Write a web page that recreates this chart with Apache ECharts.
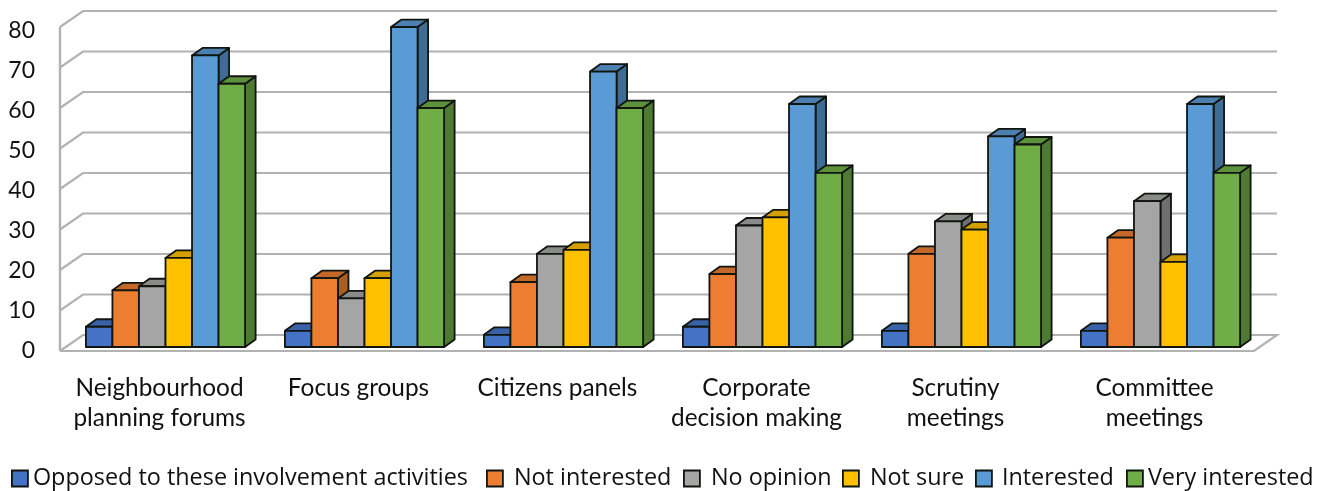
<!DOCTYPE html>
<html>
<head>
<meta charset="utf-8">
<style>html,body{margin:0;padding:0;background:#fff}#chart{width:1332px;height:491px}</style>
<script src="https://cdn.jsdelivr.net/npm/echarts@6/dist/echarts.min.js"></script>
</head>
<body>
<div id="chart"></div>
<script>
const categories = ['Neighbourhood\nplanning forums', 'Focus groups', 'Citizens panels', 'Corporate\ndecision making', 'Scrutiny\nmeetings', 'Committee\nmeetings'];
const opposed = [5, 4, 3, 5, 4, 4];
const notInterested = [14, 17, 16, 18, 23, 27];
const noOpinion = [15, 12, 23, 30, 31, 36];
const notSure = [22, 17, 24, 32, 29, 21];
const interested = [72, 79, 68, 60, 52, 60];
const veryInterested = [65, 59, 59, 43, 50, 43];
const yTicks = [0, 10, 20, 30, 40, 50, 60, 70, 80];

const seriesDefs = [
  ['Opposed to these involvement activities', opposed, '#4472C4', '#3A62A8', '#2F5288'],
  ['Not interested', notInterested, '#ED7D31', '#C4682A', '#AB5B24'],
  ['No opinion', noOpinion, '#A5A5A5', '#8A8A8A', '#6F6F6F'],
  ['Not sure', notSure, '#FFC000', '#D4A000', '#B88A00'],
  ['Interested', interested, '#5B9BD5', '#4B80B0', '#3F6C94'],
  ['Very interested', veryInterested, '#70AD47', '#5E913C', '#4E7A32']
];

// Legend entries are unevenly spaced, so each one is placed by itself: [box left, gap to text]
const legendSlots = [[11, 0], [486, 6], [683, 6], [842, 6], [975, 5], [1126, 0]];

// Oblique projection of the floor and of the bars standing on it
const WALL_DX = 23, WALL_DY = -16;
const BAR_DX = 10.5, BAR_DY = -7.5;
const BAR_SHIFT_X = 6, BAR_SHIFT_Y = -4;
const OUTLINE = '#101510';

function renderWalls(params, api) {
  const v = api.value(0);
  const rect = params.coordSys;
  const y = api.coord([0, v])[1];
  const x0 = rect.x, x1 = rect.x + rect.width;
  const pts = [[x0, y], [x0 + WALL_DX, y + WALL_DY], [x1 + WALL_DX, y + WALL_DY]];
  if (v === 0) pts.push([x1, y], [x0, y]);
  const children = [{
    type: 'polyline',
    shape: { points: pts },
    style: { fill: null, stroke: '#B2B2B2', lineWidth: 2.2 }
  }];
  if (v === 0) {
    children.push({
      type: 'line',
      shape: { x1: x0, y1: y, x2: x0, y2: api.coord([0, 80])[1] },
      style: { stroke: '#B2B2B2', lineWidth: 2.4 }
    });
  }
  return { type: 'group', children };
}

function barRenderer(index, front, top, side) {
  return function (params, api) {
    const band = api.size([1, 0])[0];
    const w = band / 7.5;
    const centre = api.coord([api.value(0), 0])[0];
    const x = centre - 3 * w + index * w + BAR_SHIFT_X;
    const base = api.coord([0, 0])[1] + BAR_SHIFT_Y;
    const y = api.coord([0, api.value(1)])[1] + BAR_SHIFT_Y;
    const edge = { stroke: OUTLINE, lineWidth: 1.8, lineJoin: 'round' };
    return {
      type: 'group',
      children: [
        {
          type: 'polygon',
          shape: { points: [[x + w, y], [x + w + BAR_DX, y + BAR_DY], [x + w + BAR_DX, base + BAR_DY], [x + w, base]] },
          style: Object.assign({ fill: side }, edge)
        },
        {
          type: 'polygon',
          shape: { points: [[x, y], [x + BAR_DX, y + BAR_DY], [x + w + BAR_DX, y + BAR_DY], [x + w, y]] },
          style: Object.assign({ fill: top }, edge)
        },
        {
          type: 'rect',
          shape: { x: x, y: y, width: w, height: base - y },
          style: Object.assign({ fill: front }, edge)
        }
      ]
    };
  };
}

const AXIS_FONT = 'Lato, sans-serif';
const LEGEND_FONT = '"Open Sans", sans-serif';

const option = {
  animation: false,
  backgroundColor: '#fff',
  grid: [
    { left: 60, top: 27, width: 1194, height: 324 },
    { left: 60, top: 31, width: 1194, height: 320 }
  ],
  xAxis: [
    {
      gridIndex: 0, type: 'category', data: categories,
      axisLine: { show: false }, axisTick: { show: false },
      axisLabel: { color: '#111', fontFamily: AXIS_FONT, fontSize: 24.4, lineHeight: 30, margin: 22, interval: 0 }
    },
    { gridIndex: 1, type: 'category', data: categories, show: false }
  ],
  yAxis: [
    { gridIndex: 0, type: 'value', min: 0, max: 80, interval: 10, show: false },
    {
      gridIndex: 1, type: 'value', min: 0, max: 80, interval: 10,
      axisLine: { show: false }, axisTick: { show: false }, splitLine: { show: false },
      axisLabel: { color: '#111', fontFamily: AXIS_FONT, fontSize: 23, margin: 25 }
    }
  ],
  legend: seriesDefs.map((d, i) => ({
    left: legendSlots[i][0], top: 467, padding: 0, icon: 'rect', itemWidth: 16, itemHeight: 16,
    data: [d[0]],
    selectedMode: false,
    itemStyle: { borderColor: OUTLINE, borderWidth: 1.8 },
    textStyle: { color: '#111', fontFamily: LEGEND_FONT, fontSize: 23.4, padding: [0, 0, 2, legendSlots[i][1]] }
  })),
  series: [
    {
      type: 'custom', name: 'walls', silent: true, xAxisIndex: 0, yAxisIndex: 0,
      data: yTicks.map(t => [t]), encode: { y: 0 },
      renderItem: renderWalls
    }
  ].concat(seriesDefs.map((d, i) => ({
    type: 'custom', name: d[0], xAxisIndex: 0, yAxisIndex: 0,
    itemStyle: { color: d[2] },
    data: d[1].map((v, c) => [c, v]),
    encode: { x: 0, y: 1 },
    renderItem: barRenderer(i, d[2], d[3], d[4])
  })))
};

echarts.init(document.getElementById('chart'), null, { renderer: 'canvas' }).setOption(option);
</script>
</body>
</html>
